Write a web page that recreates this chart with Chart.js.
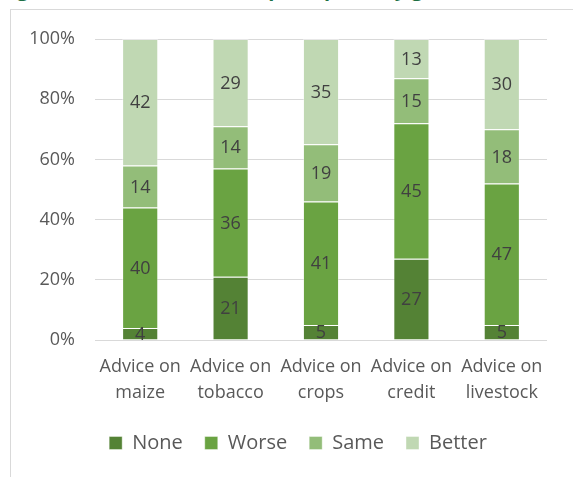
<!DOCTYPE html>
<html>
<head>
<meta charset="utf-8">
<script src="https://cdn.jsdelivr.net/npm/chart.js@4"></script>
<style>
  html, body { margin: 0; padding: 0; background: #ffffff; overflow: hidden; }
  #wrap { position: relative; width: 573px; height: 477px; }
  #frame { position: absolute; left: 10px; top: 9px; width: 600px; height: 470px;
           border-left: 1px solid #d9d9d9; border-top: 1px solid #d9d9d9; }
  #title { position: absolute; left: 0px; top: -21px; white-space: nowrap;
           font: bold 20px "Open Sans", sans-serif; line-height: 20px; color: #1e6f44; }
  canvas { position: absolute; left: 0; top: 0; }
</style>
</head>
<body>
<div id="wrap">
  <div id="title">Figure 5: Extension advice, perception by gender</div>
  <div id="frame"></div>
  <canvas id="c" width="573" height="477"></canvas>
</div>
<script>
const categories = [["Advice on", "maize"], ["Advice on", "tobacco"], ["Advice on", "crops"], ["Advice on", "credit"], ["Advice on", "livestock"]];
const none   = [4, 21, 5, 27, 5];
const worse  = [40, 36, 41, 45, 47];
const same   = [14, 14, 19, 15, 18];
const better = [42, 29, 35, 13, 30];
const yTicks = [0, 20, 40, 60, 80, 100];

const seriesNames  = ["None", "Worse", "Same", "Better"];
const seriesValues = [none, worse, same, better];
const seriesColors = ["#548235", "#6aa342", "#93bd79", "#c0d8b3"];

const valueLabels = {
  id: "valueLabels",
  afterDatasetsDraw(chart) {
    const ctx = chart.ctx;
    ctx.save();
    ctx.font = '18px "Open Sans", sans-serif';
    ctx.fillStyle = "#404040";
    ctx.textAlign = "center";
    ctx.textBaseline = "middle";
    chart.data.datasets.forEach((ds, di) => {
      const meta = chart.getDatasetMeta(di);
      meta.data.forEach((el, i) => {
        const v = ds.data[i];
        const cy = (el.y + el.base) / 2;
        ctx.fillText(String(v), el.x, cy + 1);
      });
    });
    ctx.restore();
  }
};

new Chart(document.getElementById("c"), {
  type: "bar",
  data: {
    labels: categories,
    datasets: seriesNames.map((n, i) => ({
      label: n,
      data: seriesValues[i],
      backgroundColor: seriesColors[i],
      borderColor: "rgba(255,255,255,0.4)",
      borderWidth: 1,
      categoryPercentage: 1,
      barPercentage: 0.4
    }))
  },
  options: {
    responsive: false,
    devicePixelRatio: 1,
    animation: false,
    layout: { padding: { left: 23, right: 0, top: 39, bottom: 14 } },
    plugins: {
      tooltip: { enabled: false },
      title: { display: false },
      legend: {
        position: "bottom",
        labels: {
          boxWidth: 13, boxHeight: 13, padding: 22,
          color: "#595959",
          font: { family: "Open Sans", size: 20 }
        }
      }
    },
    scales: {
      x: {
        stacked: true,
        grid: { display: false, drawTicks: false },
        border: { display: false },
        ticks: {
          color: "#595959", padding: 14, maxRotation: 0, autoSkip: false,
          font: { family: "Open Sans", size: 18, lineHeight: 1.44 }
        },
        afterFit(s) { s.height = 71; }
      },
      y: {
        stacked: true,
        min: 0, max: 100,
        afterBuildTicks(s) { s.ticks = yTicks.map(v => ({ value: v })); },
        grid: { color: "#d9d9d9", lineWidth: 1, drawTicks: false },
        border: { display: false },
        ticks: {
          color: "#595959", padding: 20,
          font: { family: "Open Sans", size: 18 },
          callback: v => v + "%"
        },
        afterFit(s) { s.width = 72; }
      },
      yRight: {
        position: "right",
        display: true,
        grid: { display: false, drawTicks: false },
        border: { display: false },
        ticks: { display: false },
        afterFit(s) { s.width = 26; }
      }
    }
  },
  plugins: [valueLabels]
});
</script>
</body>
</html>
